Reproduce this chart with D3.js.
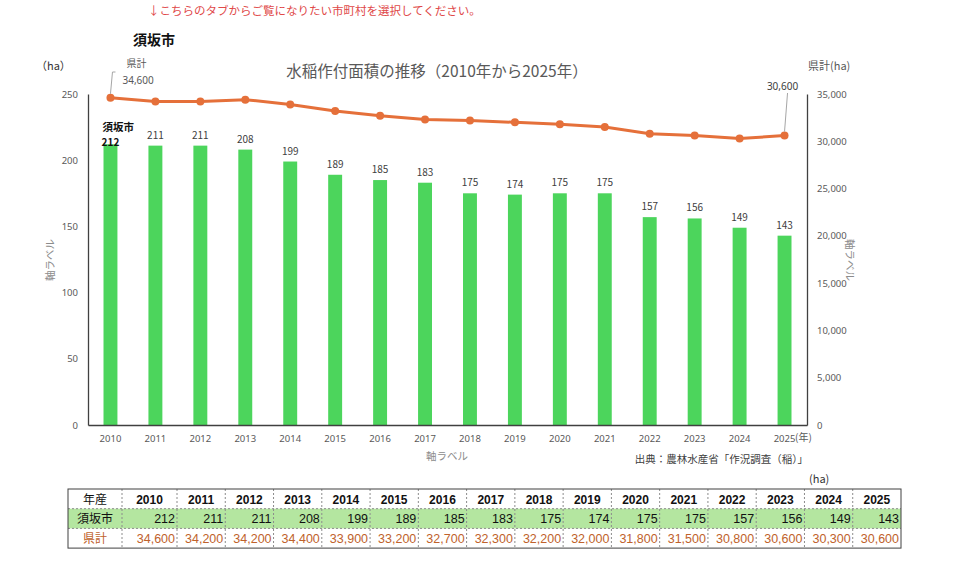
<!DOCTYPE html>
<meta charset="utf-8">
<script src="https://d3js.org/d3.v7.min.js"></script>
<style>
  body { margin: 0; background: #fff; }
  svg text { font-family: "Noto Sans CJK JP", "Noto Sans", sans-serif; }
</style>
<div id="my_dataviz"></div>
<script>
var years = ["2010", "2011", "2012", "2013", "2014", "2015", "2016", "2017",
             "2018", "2019", "2020", "2021", "2022", "2023", "2024", "2025"]
var cityValues = [212, 211, 211, 208, 199, 189, 185, 183, 175, 174, 175, 175, 157, 156, 149, 143]
var prefValues = [34600, 34200, 34200, 34400, 33900, 33200, 32700, 32300,
                  32200, 32000, 31800, 31500, 30800, 30600, 30300, 30600]
var leftTicks = [0, 50, 100, 150, 200, 250]
var rightTicks = [0, 5000, 10000, 15000, 20000, 25000, 30000, 35000]
var cityName = "須坂市"
var prefName = "県計"

var width = 960, height = 569
var plot = { left: 88, right: 807, top: 94, bottom: 425 }
var grey = "#595959"
var barColor = "#4cd55c"
var lineColor = "#e5703a"

var svg = d3.select("#my_dataviz")
  .append("svg")
  .attr("width", width)
  .attr("height", height)

// scales
var x = d3.scaleBand()
  .domain(years)
  .range([plot.left, plot.right])
  .paddingInner(0.69)
  .paddingOuter(0.345)
var xc = function(d) { return x(d) + x.bandwidth() / 2 }
var yL = d3.scaleLinear().domain([0, 250]).range([plot.bottom, plot.top])
var yR = d3.scaleLinear().domain([0, 35000]).range([plot.bottom, plot.top])

// top texts
svg.append("text").attr("x", 148).attr("y", 15)
  .attr("font-size", 11.5).attr("fill", "#e04848")
  .text("↓こちらのタブからご覧になりたい市町村を選択してください。")
svg.append("text").attr("x", 133).attr("y", 45)
  .attr("font-size", 14).attr("font-weight", "bold").attr("fill", "#111")
  .text(cityName)
svg.append("text").attr("x", 437).attr("y", 77).attr("text-anchor", "middle")
  .attr("font-size", 15.5).attr("fill", grey)
  .text("水稲作付面積の推移（2010年から2025年）")
svg.append("text").attr("x", 36).attr("y", 70)
  .attr("font-size", 11).attr("fill", "#333").text("（ha）")
svg.append("text").attr("x", 808).attr("y", 70)
  .attr("font-size", 11).attr("fill", grey).text("県計(ha)")

// bars
svg.selectAll(".bar")
  .data(years)
  .enter()
  .append("rect")
  .attr("x", function(d) { return x(d) })
  .attr("width", x.bandwidth())
  .attr("y", function(d, i) { return yL(cityValues[i]) })
  .attr("height", function(d, i) { return yL(0) - yL(cityValues[i]) })
  .attr("fill", barColor)

// bar labels
svg.selectAll(".blab")
  .data(years)
  .enter()
  .append("text")
  .attr("x", xc)
  .attr("y", function(d, i) { return i == 0 ? yL(cityValues[i]) + 2 : yL(cityValues[i]) - 7 })
  .attr("text-anchor", "middle")
  .attr("font-size", 10)
  .attr("font-weight", function(d, i) { return i == 0 ? "bold" : "normal" })
  .attr("fill", function(d, i) { return i == 0 ? "#111" : "#404040" })
  .text(function(d, i) { return cityValues[i] })
svg.append("text").attr("x", xc(years[0]) - 8).attr("y", yL(cityValues[0]) - 13)
  .attr("font-size", 10.5).attr("font-weight", "bold").attr("fill", "#111")
  .text(cityName)

// axes
var axisColor = "#404040"
var gL = svg.append("g").attr("transform", "translate(" + plot.left + ",0)")
  .call(d3.axisLeft(yL).tickValues(leftTicks).tickSize(0).tickPadding(10))
var gR = svg.append("g").attr("transform", "translate(" + plot.right + ",0)")
  .call(d3.axisRight(yR).tickValues(rightTicks).tickSize(0).tickPadding(10)
    .tickFormat(d3.format(",")))
var gB = svg.append("g").attr("transform", "translate(0," + plot.bottom + ")")
  .call(d3.axisBottom(x).tickSize(0).tickPadding(10))
;[gL, gR, gB].forEach(function(g) {
  g.select(".domain").attr("stroke", axisColor).attr("stroke-width", 1.3)
  g.selectAll("text").attr("fill", grey).attr("font-size", 9.5)
    .style("font-family", "'Noto Sans', sans-serif")
})

svg.append("text").attr("x", 795).attr("y", 441)
  .attr("font-size", 10).attr("fill", grey).text("(年)")
svg.append("text").attr("x", 447).attr("y", 460).attr("text-anchor", "middle")
  .attr("font-size", 10.5).attr("fill", "#8c8c8c").text("軸ラベル")
svg.append("text").attr("x", 808).attr("y", 463).attr("text-anchor", "end")
  .attr("font-size", 10.5).attr("fill", "#404040").text("出典：農林水産省「作況調査（稲）」")
svg.append("text").attr("transform", "translate(54,260) rotate(-90)")
  .attr("text-anchor", "middle").attr("font-size", 10.5).attr("fill", "#8c8c8c").text("軸ラベル")
svg.append("text").attr("transform", "translate(846,260) rotate(90)")
  .attr("text-anchor", "middle").attr("font-size", 10.5).attr("fill", "#8c8c8c").text("軸ラベル")

// line
var line = d3.line()
  .x(function(d, i) { return xc(years[i]) })
  .y(function(d) { return yR(d) })
svg.append("path")
  .datum(prefValues)
  .attr("d", line)
  .attr("fill", "none")
  .attr("stroke", lineColor)
  .attr("stroke-width", 3)
svg.selectAll(".dot")
  .data(prefValues)
  .enter()
  .append("circle")
  .attr("cx", function(d, i) { return xc(years[i]) })
  .attr("cy", function(d) { return yR(d) })
  .attr("r", 4)
  .attr("fill", lineColor)

// line labels with leader lines
var fmt = d3.format(",")
var first = xc(years[0]), last = xc(years[years.length - 1])
svg.append("path")
  .attr("d", "M" + first + "," + (yR(prefValues[0]) - 4) + "L" + (first + 2) + ",72h3")
  .attr("fill", "none").attr("stroke", "#a6a6a6")
svg.append("text").attr("x", first + 16).attr("y", 67)
  .attr("font-size", 10).attr("fill", grey).text(prefName)
svg.append("text").attr("x", first + 12).attr("y", 84)
  .attr("font-size", 10).attr("fill", grey).style("font-family", "'Noto Sans', sans-serif")
  .text(fmt(prefValues[0]))
svg.append("line")
  .attr("x1", last).attr("y1", yR(prefValues[15]) - 4)
  .attr("x2", last + 3).attr("y2", 93)
  .attr("stroke", "#a6a6a6")
svg.append("text").attr("x", last - 2).attr("y", 90).attr("text-anchor", "middle")
  .attr("font-size", 10).attr("fill", "#404040").style("font-family", "'Noto Sans', sans-serif")
  .text(fmt(prefValues[15]))

// table
svg.append("text").attr("x", 809).attr("y", 483)
  .attr("font-size", 11).attr("fill", "#333").text("(ha)")
var tbl = { left: 68, right: 901, top: 489, rowH: 19.7, labelW: 54, firstW: 55 }
var colW = (tbl.right - tbl.left - tbl.labelW - tbl.firstW) / (years.length - 1)
var colX = function(i) { return i == 0 ? tbl.left + tbl.labelW : tbl.left + tbl.labelW + tbl.firstW + (i - 1) * colW }
var colR = function(i) { return i == 0 ? tbl.left + tbl.labelW + tbl.firstW : colX(i) + colW }
var tg = svg.append("g")
tg.append("rect").attr("x", tbl.left).attr("y", tbl.top + tbl.rowH)
  .attr("width", tbl.right - tbl.left).attr("height", tbl.rowH).attr("fill", "#b4e6a0")
// inner dashed lines
years.forEach(function(d, i) {
  tg.append("line").attr("x1", colX(i)).attr("x2", colX(i))
    .attr("y1", tbl.top).attr("y2", tbl.top + 3 * tbl.rowH)
    .attr("stroke", "#8c8c8c").attr("stroke-dasharray", "2,2")
})
;[1, 2].forEach(function(r) {
  tg.append("line").attr("x1", tbl.left).attr("x2", tbl.right)
    .attr("y1", tbl.top + r * tbl.rowH).attr("y2", tbl.top + r * tbl.rowH)
    .attr("stroke", "#8c8c8c").attr("stroke-dasharray", "2,2")
})
tg.append("rect").attr("x", tbl.left).attr("y", tbl.top)
  .attr("width", tbl.right - tbl.left).attr("height", 3 * tbl.rowH)
  .attr("fill", "none").attr("stroke", "#404040").attr("stroke-width", 1)

var rowLabels = ["年産", cityName, prefName]
var rowColors = ["#111", "#111", "#c0622b"]
rowLabels.forEach(function(lab, r) {
  tg.append("text").attr("x", tbl.left + tbl.labelW / 2).attr("y", tbl.top + r * tbl.rowH + 14.5)
    .attr("text-anchor", "middle").attr("font-size", 12).attr("fill", rowColors[r])
    .text(lab)
})
tg.selectAll(".yh").data(years).enter().append("text")
  .attr("x", function(d, i) { return (colX(i) + colR(i)) / 2 })
  .attr("y", tbl.top + 14.5).attr("text-anchor", "middle")
  .attr("font-size", 12).attr("font-weight", "bold").attr("fill", "#111")
  .style("font-family", "'Liberation Sans', sans-serif")
  .text(function(d) { return d })
tg.selectAll(".cv").data(cityValues).enter().append("text")
  .attr("x", function(d, i) { return colR(i) - 2 })
  .attr("y", tbl.top + tbl.rowH + 14.5).attr("text-anchor", "end")
  .attr("font-size", 12.5).attr("fill", "#111")
  .style("font-family", "'Liberation Sans', sans-serif")
  .text(function(d) { return d })
tg.selectAll(".pv").data(prefValues).enter().append("text")
  .attr("x", function(d, i) { return colR(i) - 2 })
  .attr("y", tbl.top + 2 * tbl.rowH + 14.5).attr("text-anchor", "end")
  .attr("font-size", 12.5).attr("fill", "#c0622b")
  .style("font-family", "'Liberation Sans', sans-serif")
  .text(function(d) { return fmt(d) })
</script>
